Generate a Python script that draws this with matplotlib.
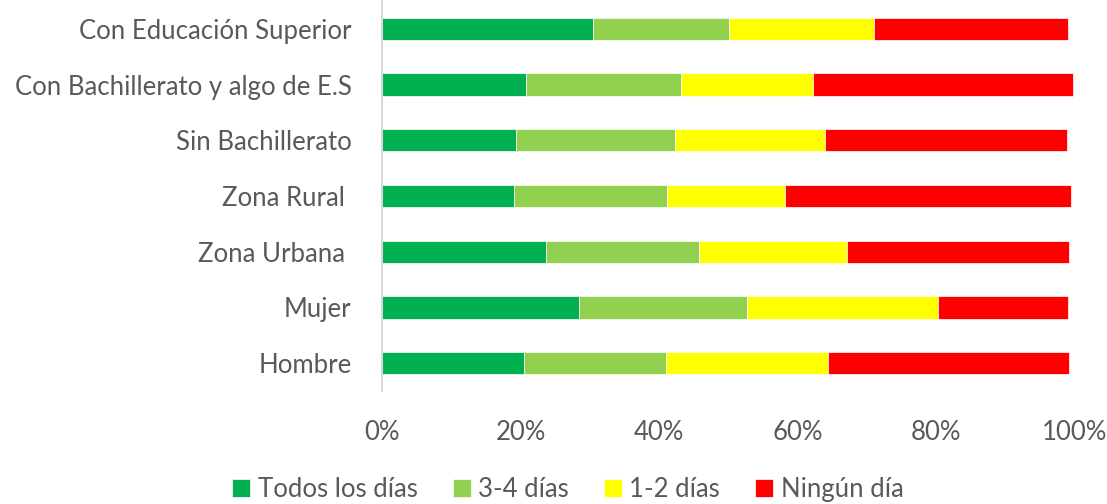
import numpy as np
import matplotlib as mpl
import matplotlib.pyplot as plt
from matplotlib.ticker import PercentFormatter

mpl.rcParams['font.family'] = ['Lato', 'DejaVu Sans']

# categories, top to bottom as in the chart
grupos = ['Con Educación Superior', 'Con Bachillerato y algo de E.S', 'Sin Bachillerato',
          'Zona Rural ', 'Zona Urbana ', 'Mujer', 'Hombre']
todos = [30.4, 20.8, 19.3, 19.1, 23.7, 28.4, 20.5]
tres_cuatro = [19.7, 22.4, 23.0, 22.0, 22.0, 24.2, 20.5]
uno_dos = [20.9, 19.0, 21.6, 17.1, 21.4, 27.7, 23.4]
ningun = [28.0, 37.5, 35.0, 41.2, 32.1, 18.7, 34.7]

series = [('Todos los días', todos, '#00B050'),
          ('3-4 días', tres_cuatro, '#92D050'),
          ('1-2 días', uno_dos, '#FFFF00'),
          ('Ningún día', ningun, '#FF0000')]

txt = '#595959'
fs = 18.5
fig = plt.figure(figsize=(11.07, 5.04), dpi=100)
ax = fig.add_axes([382/1107, 1 - 391/504, (1075-382)/1107, 390/504])

y = np.arange(len(grupos))[::-1]
left = np.zeros(len(grupos))
for name, vals, col in series:
    vals = np.array(vals)
    ax.barh(y, vals, left=left, height=0.4, color=col, label=name,
            edgecolor='white', linewidth=0.5)
    left += vals

ax.set_xlim(0, 100)
ax.set_ylim(-0.5, len(grupos) - 0.5)
ax.set_yticks(y)
ax.set_yticklabels(grupos)
ax.set_xticks(np.arange(0, 101, 20))
ax.xaxis.set_major_formatter(PercentFormatter(decimals=0))
ax.tick_params(axis='both', length=0, labelsize=fs, colors=txt)
ax.tick_params(axis='x', pad=21)
ax.tick_params(axis='y', pad=22)
for s in ['top', 'right', 'bottom']:
    ax.spines[s].set_visible(False)
ax.spines['left'].set_color('#D9D9D9')
ax.spines['left'].set_linewidth(1.5)

fig.legend(loc='lower center', bbox_to_anchor=(0.513, -0.042), ncol=4, frameon=False,
           fontsize=fs, labelcolor=txt, handlelength=0.7, handleheight=0.7,
           handletextpad=0.3, columnspacing=1.35)

plt.savefig('out.png', dpi=100)
